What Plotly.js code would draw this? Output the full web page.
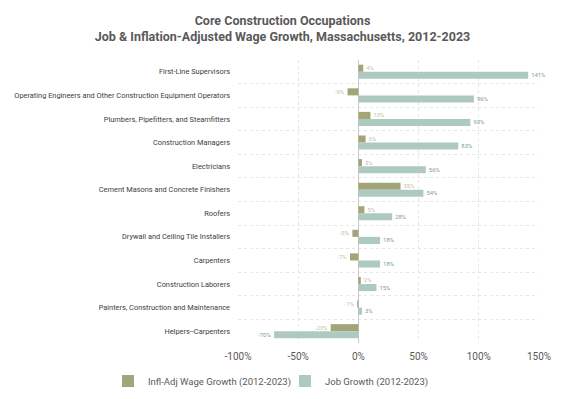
<!DOCTYPE html>
<html>
<head>
<meta charset="utf-8">
<script src="https://cdn.plot.ly/plotly-3.0.1.min.js"></script>
<style>html,body{margin:0;padding:0;background:#fff;}#chart{width:565px;height:399px;}</style>
</head>
<body>
<div id="chart"></div>
<script>
const occupations = [
  "First-Line Supervisors",
  "Operating Engineers and Other Construction Equipment Operators",
  "Plumbers, Pipefitters, and Steamfitters",
  "Construction Managers",
  "Electricians",
  "Cement Masons and Concrete Finishers",
  "Roofers",
  "Drywall and Ceiling Tile Installers",
  "Carpenters",
  "Construction Laborers",
  "Painters, Construction and Maintenance",
  "Helpers--Carpenters"
];
const wageGrowth = [4, -9, 10, 6, 3, 35, 5, -5, -7, 2, -1, -23];
const jobGrowth = [141, 96, 93, 83, 56, 54, 28, 18, 18, 15, 3, -70];
const xTickVals = [-100, -50, 0, 50, 100, 150];
const xTickText = ["-100%", "-50%", "0%", "50%", "100%", "150%"];

const FONT = "Roboto, sans-serif";

const traces = [
  {
    type: "bar", orientation: "h", name: "Infl-Adj Wage Growth (2012-2023)",
    y: occupations, x: wageGrowth,
    marker: {color: "#a2a577"},
    text: wageGrowth.map(v => v + "%"), textposition: "outside",
    textfont: {family: FONT, size: 7.5, color: "#c4c29c"},
    cliponaxis: false, hoverinfo: "x+y", legend: "legend"
  },
  {
    type: "bar", orientation: "h", name: "Job Growth (2012-2023)",
    y: occupations, x: jobGrowth,
    marker: {color: "#aecac0"},
    text: jobGrowth.map(v => v + "%"), textposition: "outside",
    textfont: {family: FONT, size: 7.5, color: "#7a9d93"},
    cliponaxis: false, hoverinfo: "x+y", legend: "legend2"
  }
];

const layout = {
  width: 565, height: 399,
  margin: {l: 238, r: 26, t: 60, b: 56, pad: 0},
  paper_bgcolor: "#fff", plot_bgcolor: "#fff",
  font: {family: FONT, color: "#404040"},
  title: {
    text: "Core Construction Occupations<br>Job & Inflation-Adjusted Wage Growth, Massachusetts, 2012-2023",
    x: 0.5, xref: "container", xanchor: "center", y: 1 - 25 / 399, yref: "container", yanchor: "middle",
    font: {family: FONT, size: 12.5, color: "#595959", weight: "bold"}
  },
  barmode: "group", bargap: 0.4, bargroupgap: 0,
  xaxis: {
    range: [-100, 150], tickvals: xTickVals, ticktext: xTickText,
    showgrid: true, gridcolor: "#e6e6e6", griddash: "dot", gridwidth: 1,
    zeroline: true, zerolinecolor: "#c8c8c8", zerolinewidth: 1.5,
    tickfont: {size: 10, color: "#595959"}, ticks: "", ticklabelstandoff: 6, fixedrange: true
  },
  yaxis: {
    type: "category", autorange: "reversed", tickson: "boundaries",
    showgrid: true, gridcolor: "#e6e6e6", griddash: "dot", gridwidth: 1,
    ticks: "", ticklen: 0, tickfont: {size: 7.4, color: "#404040"}, ticklabelstandoff: 7,
    fixedrange: true
  },
  legend: {
    orientation: "h", xref: "container", x: 108 / 565, xanchor: "left",
    yref: "container", y: 1 - 381 / 399, yanchor: "middle",
    font: {size: 9.5, color: "#595959"}, bgcolor: "rgba(0,0,0,0)"
  },
  legend2: {
    orientation: "h", xref: "container", x: 285 / 565, xanchor: "left",
    yref: "container", y: 1 - 381 / 399, yanchor: "middle",
    font: {size: 9.5, color: "#595959"}, bgcolor: "rgba(0,0,0,0)"
  },
  showlegend: true
};

Plotly.newPlot("chart", traces, layout, {displayModeBar: false, staticPlot: true});
</script>
</body>
</html>
